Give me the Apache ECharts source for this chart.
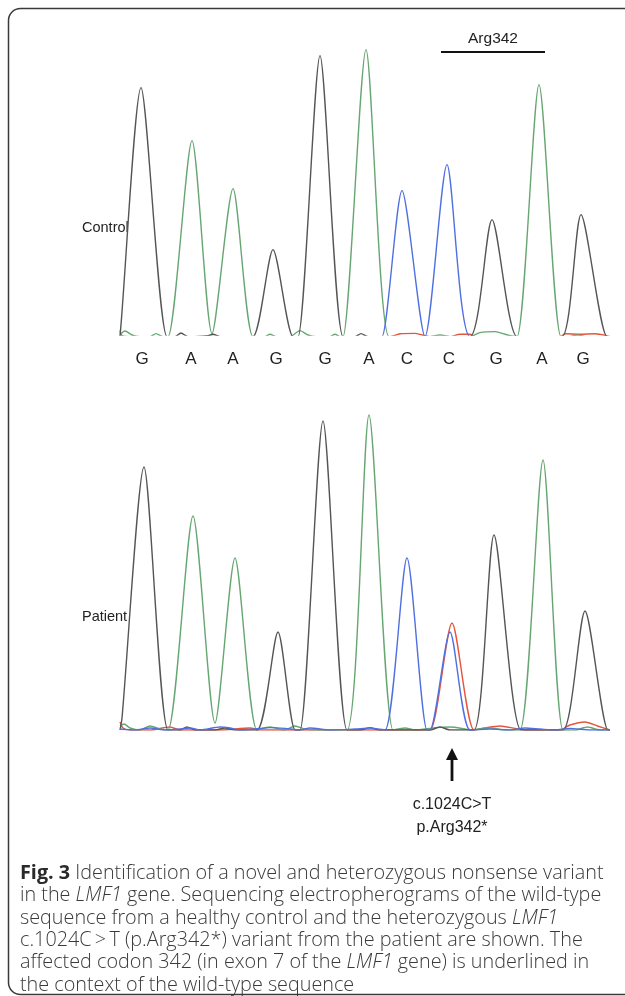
<!DOCTYPE html>
<html><head><meta charset="utf-8">
<script src="https://cdn.jsdelivr.net/npm/echarts@6/dist/echarts.min.js"></script>
<style>html,body{margin:0;padding:0;background:#fff}#c{width:625px;height:996px}</style>
</head><body><div id="c"></div>
<script>
// ---- data (scan position, signal intensity) ----
const baseCalls = ['G','A','A','G','G','A','C','C','G','A','G'];
const baseCallScan = [44,142,226,312,410,498,574,658,752,844,926];
const codonLabel = 'Arg342';
const codonScan = [642, 850];
const variantScan = 664;
const variantLabels = ['c.1024C>T', 'p.Arg342*'];
const panelLabels = ['Control', 'Patient'];

// Control traces
const controlG = [[0,0],[2,60],[42,1245],[94,0],[110,0],[122,18],[136,0],[170,0],[186,12],[200,0],[240,0],[266,0],[306,435],[346,0],[356,0],[400,1405],[446,0],[470,0],[482,15],[496,0],[540,0],[600,0],[640,0],[700,0],[744,585],[794,0],[830,0],[884,0],[922,610],[974,0],[980,0]];
const controlA = [[0,10],[10,28],[24,8],[40,0],[60,0],[72,15],[86,0],[96,0],[144,980],[184,15],[226,740],[266,0],[290,0],[300,12],[312,0],[340,0],[360,30],[376,8],[392,0],[420,0],[430,12],[440,0],[446,0],[492,1435],[538,0],[580,0],[620,0],[640,8],[660,0],[700,0],[720,20],[750,25],[775,8],[794,0],[838,1260],[882,0],[900,0],[915,8],[930,0],[960,0],[980,0]];
const controlC = [[0,0],[100,0],[300,0],[520,0],[524,0],[564,730],[610,0],[654,860],[700,0],[760,0],[980,0]];
const controlT = [[0,30],[4,5],[20,0],[150,0],[170,5],[190,0],[500,0],[540,0],[560,14],[590,16],[620,0],[660,0],[680,12],[700,12],[710,0],[880,0],[890,14],[920,12],[950,14],[980,0]];

// Patient traces
const patientG = [[0,0],[4,60],[48,1315],[96,0],[120,0],[134,15],[150,0],[190,0],[210,10],[230,0],[274,0],[316,490],[350,0],[360,0],[406,1545],[454,0],[480,0],[500,12],[520,0],[560,0],[600,0],[620,0],[640,15],[660,0],[708,0],[748,975],[802,0],[840,0],[886,0],[930,595],[976,0],[980,0]];
const patientA = [[0,20],[8,30],[20,10],[40,0],[60,20],[80,5],[96,0],[146,1070],[190,35],[230,860],[274,0],[300,15],[330,0],[350,20],[370,5],[400,0],[454,0],[498,1575],[546,0],[570,10],[590,0],[630,12],[660,15],[690,5],[700,0],[740,10],[770,0],[800,0],[846,1350],[886,0],[910,0],[935,15],[960,0],[980,0]];
const patientC = [[0,5],[30,0],[60,10],[90,0],[120,5],[140,10],[160,0],[200,15],[220,10],[240,0],[270,5],[300,12],[330,8],[360,0],[380,10],[420,0],[470,5],[500,10],[530,0],[574,860],[614,0],[620,0],[660,490],[700,0],[740,5],[780,0],[810,10],[840,5],[870,0],[900,8],[940,0],[980,0]];
const patientT = [[0,40],[6,10],[20,0],[60,0],[100,15],[120,0],[200,0],[260,10],[280,0],[400,0],[460,0],[560,0],[600,0],[620,0],[664,535],[708,0],[730,10],[760,20],[790,8],[810,0],[880,0],[900,25],[930,40],[955,20],[980,0]];

const captionLines = [
  '{b|Fig. 3} Identification of a novel and heterozygous nonsense variant',
  'in the {i|LMF1} gene. Sequencing electropherograms of the wild-type',
  'sequence from a healthy control and the heterozygous {i|LMF1}',
  'c.1024C\u2009>\u2009T (p.Arg342*) variant from the patient are shown. The',
  'affected codon 342 (in exon 7 of the {i|LMF1} gene) is underlined in',
  'the context of the wild-type sequence'
];

// ---- chart ----
const COLORS = {G:'#555555', A:'#66a672', C:'#5070e0', T:'#e5553c'};
const chart = echarts.init(document.getElementById('c'), null, {renderer:'canvas'});
function trace(data, base, idx) {
  return {type:'line', data, xAxisIndex:idx, yAxisIndex:idx, smooth:0.25, symbol:'none', clip:true,
    lineStyle:{color:COLORS[base], width:1.4}, silent:true, z: base==='G'?4:(base==='A'?3:(base==='C'?5:2))};
}
const grids = [
  {left:120, width:490, top:15, height:320},
  {left:120, width:490, top:410, height:320}
];
chart.setOption({
  animation:false,
  backgroundColor:'#fff',
  grid: grids,
  xAxis: [0,1].map(i=>({type:'value', gridIndex:i, min:0, max:980, show:false})),
  yAxis: [
    {type:'value', gridIndex:0, min:8, max:1608, show:false},
    {type:'value', gridIndex:1, min:0, max:1600, show:false}
  ],
  series: [
    trace(controlT,'T',0), trace(controlA,'A',0), trace(controlG,'G',0), trace(controlC,'C',0),
    trace(patientT,'T',1), trace(patientA,'A',1), trace(patientG,'G',1), trace(patientC,'C',1)
  ]
});

const P = (g, pt) => chart.convertToPixel({gridIndex:g}, pt);
const LF = 'Liberation Sans, Arial, sans-serif';
const CF = 'Open Sans';
const els = [];
els.push({type:'rect', shape:{x:8.5, y:8.5, width:700, height:986, r:12}, style:{fill:null, stroke:'#3a3a3a', lineWidth:1.5}, z:1});
// base calls
const base0 = P(0,[0,8]);
baseCalls.forEach((b,i)=>{
  const p = P(0,[baseCallScan[i],8]);
  els.push({type:'text', x:p[0], y:base0[1]+24, style:{text:b, fontFamily:LF, fontSize:17, fill:'#222', align:'center', verticalAlign:'middle'}});
});
// codon underline + label
const c0 = P(0,[codonScan[0],8]), c1 = P(0,[codonScan[1],8]);
els.push({type:'line', shape:{x1:c0[0], y1:52, x2:c1[0], y2:52}, style:{stroke:'#111', lineWidth:2}});
els.push({type:'text', x:(c0[0]+c1[0])/2, y:39, style:{text:codonLabel, fontFamily:LF, fontSize:15.5, fill:'#222', align:'center', verticalAlign:'middle'}});
// panel labels
els.push({type:'text', x:82, y:228, style:{text:panelLabels[0], fontFamily:LF, fontSize:14.5, fill:'#222', align:'left', verticalAlign:'middle'}});
els.push({type:'text', x:82, y:617, style:{text:panelLabels[1], fontFamily:LF, fontSize:14.5, fill:'#222', align:'left', verticalAlign:'middle'}});
// variant arrow
const v = P(1,[variantScan,0]);
const tipY = v[1]+18;
els.push({type:'line', shape:{x1:v[0], y1:tipY+8, x2:v[0], y2:tipY+33}, style:{stroke:'#111', lineWidth:2.8}});
els.push({type:'polygon', shape:{points:[[v[0],tipY],[v[0]-6,tipY+12],[v[0]+6,tipY+12]]}, style:{fill:'#111'}});
els.push({type:'text', x:v[0], y:tipY+57, style:{text:variantLabels[0], fontFamily:LF, fontSize:16, fill:'#222', align:'center', verticalAlign:'middle'}});
els.push({type:'text', x:v[0], y:tipY+80, style:{text:variantLabels[1], fontFamily:LF, fontSize:16, fill:'#222', align:'center', verticalAlign:'middle'}});
// caption
const CS = 19.8, CLH = 22.4;
els.push({type:'text', x:20, y:862, style:{
  text: captionLines.join('\n'), fontFamily:CF, fontWeight:300, fontSize:CS, lineHeight:CLH,
  fill:'#3a3a3a', align:'left', verticalAlign:'top',
  rich:{ b:{fontFamily:CF, fontWeight:'bold', fontSize:CS, lineHeight:CLH, fill:'#2a2a2a'},
         i:{fontFamily:CF, fontWeight:300, fontStyle:'italic', fontSize:CS, lineHeight:CLH, fill:'#3a3a3a'} }
}});
chart.setOption({graphic: els});
</script></body></html>
